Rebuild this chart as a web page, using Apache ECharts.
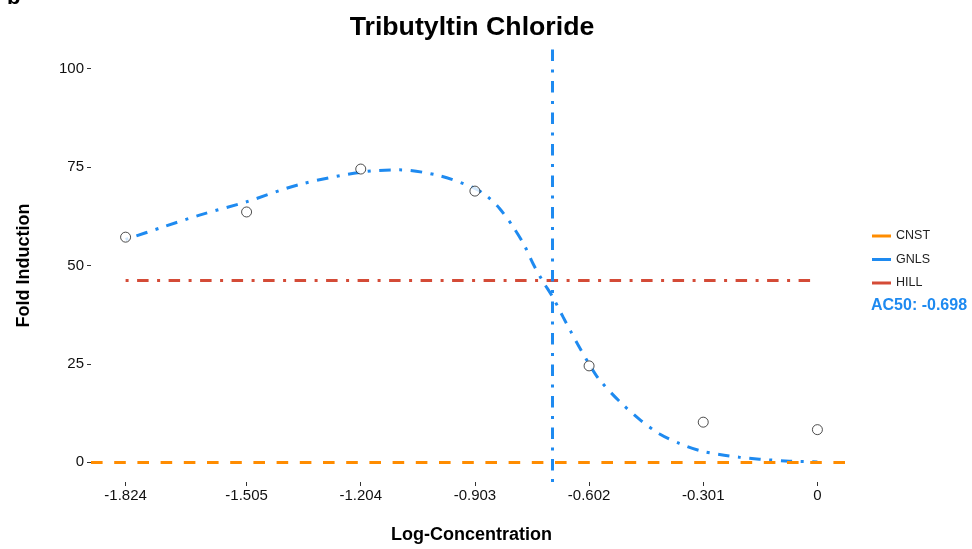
<!DOCTYPE html>
<html>
<head>
<meta charset="utf-8">
<script src="https://cdn.jsdelivr.net/npm/echarts@6/dist/echarts.min.js"></script>
<style>
html,body{margin:0;padding:0;background:#fff;}
#chart{width:972px;height:549px;}
</style>
</head>
<body>
<div id="chart"></div>
<script>
// Observed data points
const logConc = [-1.824, -1.505, -1.204, -0.903, -0.602, -0.301, 0];
const foldInduction = [57.2, 63.6, 74.5, 68.9, 24.5, 10.2, 8.3];
const tickLabels = ['-1.824', '-1.505', '-1.204', '-0.903', '-0.602', '-0.301', '0'];
const yTicks = [0, 25, 50, 75, 100];

// GNLS fitted curve
const gnlsX = [-1.824, -1.734, -1.629, -1.505, -1.365, -1.204, -1.102, -0.996, -0.903, -0.870, -0.838, -0.800, -0.772, -0.750, -0.724, -0.698, -0.671, -0.650, -0.632, -0.602, -0.575, -0.522, -0.469, -0.416, -0.364, -0.311, -0.258, -0.206, -0.153, -0.074, 0];
const gnlsY = [56.6, 59.5, 62.8, 66.2, 70.6, 73.7, 74.3, 72.8, 69.6, 67.5, 64.5, 59.5, 55.0, 50.5, 46.0, 42.0, 37.0, 33.2, 30.0, 25.0, 21.0, 15.5, 10.9, 7.2, 4.8, 3.0, 2.0, 1.3, 0.8, 0.3, 0.1];

// HILL fit (flat) and CNST fit
const hillValue = 46.2;
const cnstValue = 0;
const ac50 = -0.698;

const xRange = [-1.9152, 0.0912];
const yRange = [-5, 105];

const blue = '#1E8AF0';
const red = '#D44B37';
const orange = '#FF8C00';
const dotdash = [3, 8.5, 11.5, 8.5];

const chart = echarts.init(document.getElementById('chart'));
chart.setOption({
  animation: false,
  backgroundColor: '#fff',
  textStyle: { fontFamily: 'Liberation Sans, Arial, sans-serif' },
  title: {
    text: 'Tributyltin Chloride',
    left: 472, textAlign: 'center', top: 14, padding: 0,
    textStyle: { fontSize: 26.7, fontWeight: 'bold', color: '#000', fontFamily: 'Liberation Sans, Arial, sans-serif' }
  },
  graphic: [
    { type: 'text', left: 7, top: -13, style: { text: 'b', font: 'bold 22px Liberation Sans, Arial, sans-serif', fill: '#000' } },
    { type: 'text', left: 871, top: 298, style: { text: 'AC50: ' + ac50.toFixed(3), font: 'bold 16px Liberation Sans, Arial, sans-serif', fill: blue } }
  ],
  legend: {
    data: ['CNST', 'GNLS', 'HILL'],
    orient: 'vertical',
    left: 872, top: 229, padding: 0,
    icon: 'rect', itemWidth: 19, itemHeight: 3, itemGap: 9.5,
    textStyle: { fontSize: 12.5, color: '#222', lineHeight: 14, fontFamily: 'Liberation Sans, Arial, sans-serif' }
  },
  grid: { left: 91, right: 120, top: 49, bottom: 64 },
  xAxis: {
    type: 'value', min: xRange[0], max: xRange[1],
    name: 'Log-Concentration', nameLocation: 'middle', nameGap: 44,
    nameTextStyle: { fontSize: 18, fontWeight: 'bold', color: '#000' },
    axisLine: { show: false, onZero: false },
    axisTick: { show: true, length: 4, customValues: logConc, lineStyle: { color: '#333' } },
    axisLabel: {
      customValues: logConc, margin: 6, fontSize: 15, color: '#111',
      formatter: function (v) { const i = logConc.indexOf(v); return i >= 0 ? tickLabels[i] : ''; }
    },
    splitLine: { show: false }
  },
  yAxis: {
    type: 'value', min: yRange[0], max: yRange[1],
    name: 'Fold Induction', nameLocation: 'middle', nameGap: 58,
    nameTextStyle: { fontSize: 18, fontWeight: 'bold', color: '#000' },
    axisLine: { show: false, onZero: false },
    axisTick: { show: true, length: 4, customValues: yTicks, lineStyle: { color: '#333' } },
    axisLabel: { customValues: yTicks, margin: 7, fontSize: 15, color: '#111' },
    splitLine: { show: false }
  },
  series: [
    {
      name: 'CNST', type: 'line', color: orange, data: [], symbol: 'none',
      markLine: {
        silent: true, symbol: 'none', label: { show: false },
        lineStyle: { color: orange, width: 3, type: [11.6, 11.6] },
        data: [{ yAxis: cnstValue }]
      }
    },
    {
      name: 'GNLS', type: 'line', color: blue, smooth: 0.3, symbol: 'none',
      lineStyle: { color: blue, width: 3, type: dotdash, cap: 'butt' },
      data: gnlsX.map((x, i) => [x, gnlsY[i]]),
      markLine: {
        silent: true, symbol: 'none', label: { show: false },
        lineStyle: { color: blue, width: 3, type: dotdash },
        data: [{ xAxis: ac50 }]
      }
    },
    {
      name: 'HILL', type: 'line', color: red, symbol: 'none',
      lineStyle: { color: red, width: 3, type: dotdash },
      data: [[logConc[0], hillValue], [logConc[logConc.length - 1], hillValue]]
    },
    {
      name: 'points', type: 'scatter', symbol: 'circle', symbolSize: 10, z: 10,
      itemStyle: { color: '#fff', borderColor: '#222', borderWidth: 1 },
      data: logConc.map((x, i) => [x, foldInduction[i]])
    }
  ]
});
</script>
</body>
</html>
